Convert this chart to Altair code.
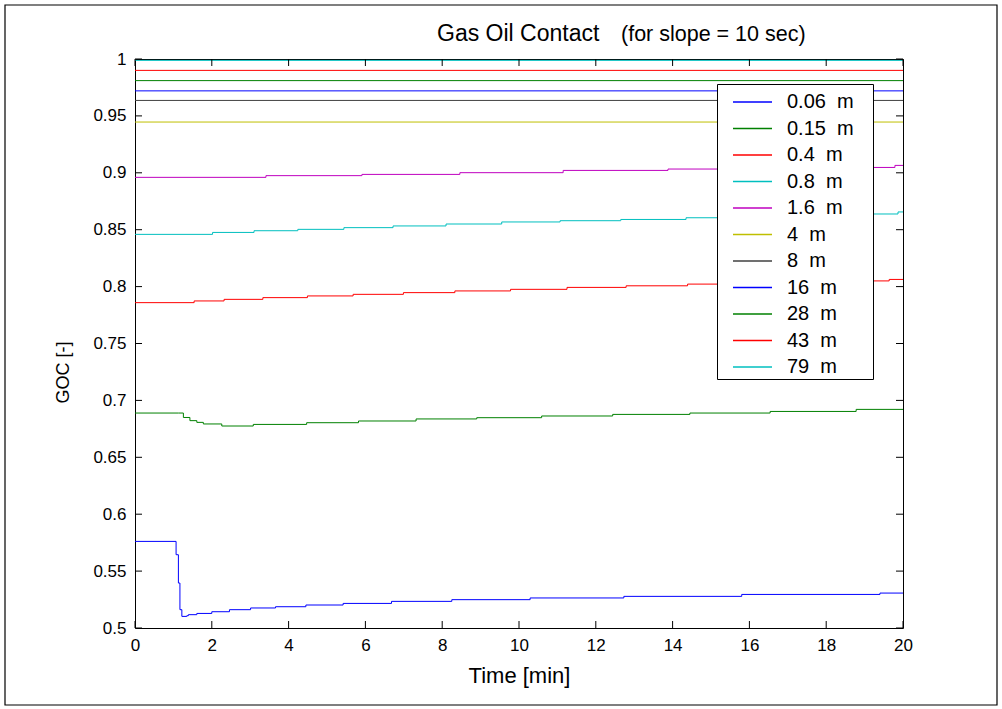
import altair as alt
import pandas as pd

# ---------------- data ----------------
labels = ["0.06 m", "0.15 m", "0.4 m", "0.8 m", "1.6 m", "4 m", "8 m", "16 m", "28 m", "43 m", "79 m"]
colors = ["#0000ff", "#008000", "#ff0000", "#00bfbf", "#bf00bf", "#bfbf00", "#404040",
          "#0000ff", "#008000", "#ff0000", "#00bfbf"]

t_006 = [0, 1.07, 1.13, 1.17, 1.22, 1.35, 1.39, 1.61, 2.0, 2.46, 3.01, 3.66, 4.45, 5.42, 6.68, 8.25, 10.29, 12.73, 15.80, 19.40, 20]
v_006 = [0.5761, 0.5644, 0.5395, 0.5161, 0.5102, 0.5108, 0.5117, 0.5128, 0.5143, 0.5161, 0.5176, 0.5187, 0.5202, 0.5216, 0.5234, 0.5249, 0.5264, 0.5278, 0.5295, 0.5307, 0.5307]

t_015 = [0, 1.13, 1.26, 1.43, 1.61, 1.78, 2.26, 3.08, 4.47, 5.82, 7.32, 8.9, 10.59, 12.44, 14.45, 16.54, 18.78, 20]
v_015 = [0.6889, 0.6889, 0.6850, 0.6822, 0.6807, 0.6793, 0.6775, 0.6789, 0.6804, 0.6819, 0.6837, 0.6848, 0.6863, 0.6877, 0.6889, 0.6903, 0.6921, 0.6921]

t_04 = [0, 1.54, 2.32, 3.33, 4.49, 5.68, 6.99, 8.33, 9.78, 11.25, 12.79, 14.39, 16.0, 17.8, 19.64, 20]
v_04 = [0.7859, 0.7874, 0.7888, 0.7903, 0.7918, 0.7932, 0.7947, 0.7962, 0.7976, 0.7993, 0.8007, 0.8022, 0.8036, 0.8050, 0.8063, 0.8063]

t_08 = [0, 2.02, 3.10, 4.24, 5.44, 6.72, 8.10, 9.55, 11.07, 12.65, 14.35, 16.1, 17.9, 19.87, 20]
v_08 = [0.8459, 0.8476, 0.8491, 0.8503, 0.8518, 0.8533, 0.8550, 0.8568, 0.8579, 0.8590, 0.8605, 0.8620, 0.8638, 0.8656, 0.8656]

t_16 = [0, 3.41, 5.91, 8.46, 11.15, 13.88, 16.6, 19.79, 20]
v_16 = [0.8960, 0.8975, 0.8986, 0.9001, 0.9021, 0.9033, 0.9047, 0.9065, 0.9065]

t_flat = [0, 20]
v_4 = [0.9446, 0.9446]
v_8 = [0.9636, 0.9636]
v_16m = [0.9720, 0.9720]
v_28 = [0.9810, 0.9810]
v_43 = [0.9900, 0.9900]
v_79 = [0.9988, 0.9988]

x_ticks = [0, 2, 4, 6, 8, 10, 12, 14, 16, 18, 20]
y_ticks = [0.5, 0.55, 0.6, 0.65, 0.7, 0.75, 0.8, 0.85, 0.9, 0.95, 1.0]

series = [
    (labels[0], t_006, v_006), (labels[1], t_015, v_015), (labels[2], t_04, v_04),
    (labels[3], t_08, v_08), (labels[4], t_16, v_16), (labels[5], t_flat, v_4),
    (labels[6], t_flat, v_8), (labels[7], t_flat, v_16m), (labels[8], t_flat, v_28),
    (labels[9], t_flat, v_43), (labels[10], t_flat, v_79),
]
rows = []
for i, (name, ts, vs) in enumerate(series):
    for t, v in zip(ts, vs):
        rows.append({"series": name, "order": i, "t": t, "v": v})
df = pd.DataFrame(rows)

FONT = "Liberation Sans"
W, H = 768, 569

xscale = alt.Scale(domain=[0, 20], nice=False, zero=False)
yscale = alt.Scale(domain=[0.5, 1.0], nice=False, zero=False)
xaxis = alt.Axis(values=x_ticks, format="~g", ticks=False, domain=False, grid=False,
                 labelFlush=False, labelPadding=9, titlePadding=12, titleFontSize=22)
yaxis = alt.Axis(values=y_ticks, format="~g", ticks=False, domain=False, grid=False,
                 labelFlush=False, labelPadding=9, titlePadding=20, titleFontSize=18,
                 titleY=313)
XT = "Time [min]"
YT = "GOC [-]"

lines = alt.Chart(df).mark_line(interpolate="step-after", strokeWidth=1, clip=True).encode(
    x=alt.X("t:Q", scale=xscale, title=XT, axis=xaxis),
    y=alt.Y("v:Q", scale=yscale, title=YT, axis=yaxis),
    color=alt.Color("series:N", sort=labels,
                    scale=alt.Scale(domain=labels, range=colors),
                    legend=alt.Legend(title=None, orient="none", legendX=582, legendY=25,
                                      strokeColor="black", fillColor="white", padding=2,
                                      symbolType="M-1.3,0H1.3", symbolSize=900, symbolStrokeWidth=1.5,
                                      symbolOffset=17.5, labelOffset=18.5, labelFontSize=20,
                                      labelFont=FONT, labelColor="black", rowPadding=0.5,
                                      labelExpr="replace(datum.label, ' ', '\u00a0 ') + '\u00a0\u00a0\u00a0\u200b'")),
    order=alt.Order("order:Q"),
)

xt = pd.DataFrame({"t": x_ticks})
yt = pd.DataFrame({"v": y_ticks})

xb = alt.Chart(xt).mark_rule(color="black", strokeWidth=1).encode(
    x=alt.X("t:Q", scale=xscale, title=XT, axis=xaxis), y=alt.value(H), y2=alt.value(H - 7))
xtp = alt.Chart(xt).mark_rule(color="black", strokeWidth=1).encode(
    x=alt.X("t:Q", scale=xscale, title=XT, axis=xaxis), y=alt.value(0), y2=alt.value(7))
yl = alt.Chart(yt).mark_rule(color="black", strokeWidth=1).encode(
    y=alt.Y("v:Q", scale=yscale, title=YT, axis=yaxis), x=alt.value(0), x2=alt.value(7))
yr = alt.Chart(yt).mark_rule(color="black", strokeWidth=1).encode(
    y=alt.Y("v:Q", scale=yscale, title=YT, axis=yaxis), x=alt.value(W), x2=alt.value(W - 7))

title_main = alt.Chart(pd.DataFrame({"txt": ["Gas Oil Contact"]})).mark_text(
    align="left", baseline="middle", font=FONT, fontSize=23, color="black").encode(
    text="txt:N", x=alt.value(302), y=alt.value(-25))
title_sub = alt.Chart(pd.DataFrame({"txt": ["(for slope = 10 sec)"]})).mark_text(
    align="left", baseline="middle", font=FONT, fontSize=21.5, color="black").encode(
    text="txt:N", x=alt.value(486), y=alt.value(-24))

frame = alt.Chart(pd.DataFrame({"a": [0]})).mark_rect(
    fill="transparent", stroke="black", strokeWidth=1.2, clip=False).encode(
    x=alt.value(-130), x2=alt.value(862), y=alt.value(-54), y2=alt.value(646))

chart = alt.layer(lines, xb, xtp, yl, yr, title_main, title_sub, frame).properties(
    width=W, height=H,
    autosize=alt.AutoSizeParams(type="none"),
    padding={"left": 135, "top": 59, "right": 99, "bottom": 81},
    background="white",
).configure_view(stroke="black", strokeWidth=1).configure_axis(
    labelFont=FONT, labelFontSize=17, labelColor="black",
    titleFont=FONT, titleFontWeight="normal", titleColor="black",
)

chart.save("out.html", embed_options={"renderer": "svg", "actions": False})
